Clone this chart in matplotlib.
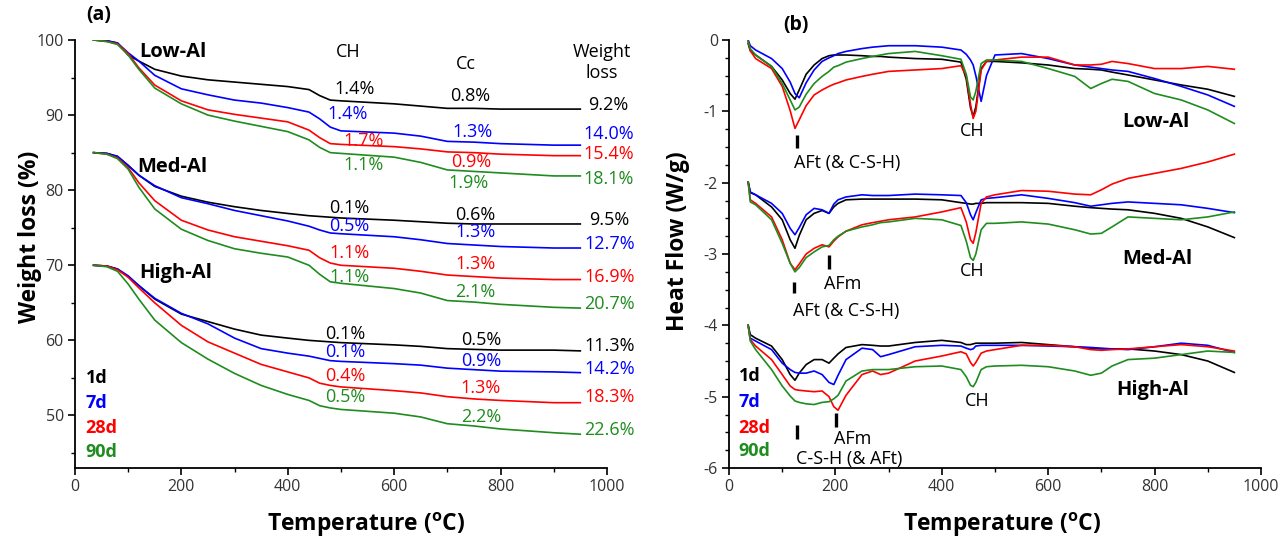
import matplotlib
matplotlib.use("Agg")
import matplotlib.pyplot as plt
from matplotlib.ticker import MultipleLocator

plt.rcParams["font.family"] = ["Open Sans", "DejaVu Sans"]
plt.rcParams["axes.unicode_minus"] = False
plt.rcParams["mathtext.fontset"] = "custom"
plt.rcParams["mathtext.rm"] = "Open Sans"
plt.rcParams["mathtext.bf"] = "Open Sans:bold"

ages = ["1d", "7d", "28d", "90d"]
colors = ["#000000", "#0000ff", "#ff0000", "#1e8c1e"]

# ---- (a) TGA: weight (%) vs temperature, curves shifted by group ----
temp_a = [35, 60, 80, 100, 120, 150, 200, 250, 300, 350, 400, 440, 460, 480,
          500, 600, 650, 700, 750, 800, 900, 950]

low_1d = [100, 99.9, 99.6, 98.0, 97.2, 96.1, 95.2, 94.7, 94.4, 94.1, 93.8, 93.4,
          92.6, 92.0, 91.9, 91.5, 91.2, 90.9, 90.9, 90.8, 90.8, 90.8]
low_7d = [100, 99.9, 99.6, 98.3, 97.2, 95.3, 93.5, 92.7, 92.0, 91.6, 91.0, 90.4,
          89.5, 88.4, 87.9, 87.6, 87.2, 86.5, 86.4, 86.2, 86.0, 86.0]
low_28d = [100, 99.8, 99.5, 98.2, 96.3, 94.0, 91.9, 90.7, 90.1, 89.6, 89.1, 88.0,
           87.0, 86.2, 86.1, 85.8, 85.5, 85.1, 85.0, 84.8, 84.6, 84.6]
low_90d = [100, 99.8, 99.4, 98.0, 96.1, 93.6, 91.5, 90.0, 89.2, 88.5, 87.8, 86.7,
           85.7, 85.0, 84.9, 84.4, 83.7, 82.7, 82.5, 82.3, 81.9, 81.9]

med_1d = [85, 84.9, 84.5, 83.3, 82.0, 80.5, 79.2, 78.4, 77.8, 77.3, 76.9, 76.6,
          76.5, 76.4, 76.3, 76.0, 75.8, 75.6, 75.5, 75.5, 75.5, 75.5]
med_7d = [85, 84.9, 84.5, 83.3, 82.0, 80.6, 79.0, 78.2, 77.3, 76.6, 75.9, 75.2,
          74.7, 74.3, 74.2, 73.8, 73.4, 72.9, 72.7, 72.5, 72.3, 72.3]
med_28d = [85, 84.8, 84.3, 83.0, 81.0, 78.6, 76.0, 74.7, 73.8, 73.2, 72.6, 72.0,
           71.0, 70.3, 70.0, 69.6, 69.2, 68.7, 68.5, 68.3, 68.1, 68.1]
med_90d = [85, 84.8, 84.2, 82.8, 80.4, 77.5, 74.8, 73.3, 72.2, 71.6, 71.1, 70.0,
           68.8, 67.8, 67.6, 66.9, 66.3, 65.3, 65.1, 64.8, 64.4, 64.3]

high_1d = [70, 69.9, 69.5, 68.5, 67.3, 65.5, 63.5, 62.5, 61.5, 60.7, 60.3, 60.0,
           59.9, 59.8, 59.7, 59.4, 59.2, 58.9, 58.8, 58.7, 58.7, 58.6]
high_7d = [70, 69.9, 69.5, 68.6, 67.3, 65.6, 63.6, 62.2, 60.3, 58.9, 58.3, 57.9,
           57.6, 57.3, 57.2, 56.9, 56.7, 56.3, 56.1, 55.9, 55.8, 55.7]
high_28d = [70, 69.9, 69.4, 68.4, 67.0, 65.0, 62.0, 59.8, 58.3, 56.8, 55.8, 55.0,
            54.3, 54.0, 53.8, 53.3, 53.0, 52.5, 52.2, 52.0, 51.7, 51.7]
high_90d = [70, 69.8, 69.2, 67.5, 65.5, 62.7, 59.7, 57.5, 55.6, 54.0, 52.8, 52.0,
            51.3, 51.0, 50.8, 50.3, 49.8, 48.9, 48.6, 48.2, 47.7, 47.5]

# step losses written on the chart (CH, Cc, total)
low_ch = ["1.4%", "1.4%", "1.7%", "1.1%"]
low_cc = ["0.8%", "1.3%", "0.9%", "1.9%"]
low_total = ["9.2%", "14.0%", "15.4%", "18.1%"]
med_ch = ["0.1%", "0.5%", "1.1%", "1.1%"]
med_cc = ["0.6%", "1.3%", "1.3%", "2.1%"]
med_total = ["9.5%", "12.7%", "16.9%", "20.7%"]
high_ch = ["0.1%", "0.1%", "0.4%", "0.5%"]
high_cc = ["0.5%", "0.9%", "1.3%", "2.2%"]
high_total = ["11.3%", "14.2%", "18.3%", "22.6%"]

# ---- (b) DSC: heat flow (W/g), shifted by group ----
temp_b = [36, 40, 50, 80, 100, 115, 124, 132, 145, 160, 175, 188, 197, 205, 220,
          250, 270, 285, 300, 350, 400, 436, 446, 454, 459, 464, 474, 484, 500,
          550, 600, 650, 680, 700, 720, 750, 800, 850, 900, 950]

hf_low_1d = [-0.05, -0.15, -0.21, -0.37, -0.56, -0.75, -0.83, -0.70, -0.48, -0.35,
             -0.26, -0.22, -0.21, -0.21, -0.21, -0.22, -0.23, -0.23, -0.24, -0.26,
             -0.27, -0.31, -0.55, -0.95, -1.07, -0.94, -0.40, -0.30, -0.30, -0.32,
             -0.35, -0.40, -0.41, -0.42, -0.45, -0.49, -0.56, -0.63, -0.69, -0.79]
hf_low_7d = [0.0, -0.08, -0.14, -0.26, -0.40, -0.59, -0.75, -0.81, -0.60, -0.42,
             -0.30, -0.25, -0.22, -0.19, -0.16, -0.12, -0.10, -0.09, -0.08, -0.08,
             -0.10, -0.14, -0.20, -0.28, -0.35, -0.50, -0.86, -0.50, -0.21, -0.19,
             -0.26, -0.35, -0.38, -0.40, -0.42, -0.44, -0.54, -0.65, -0.77, -0.93]
hf_low_28d = [-0.02, -0.15, -0.26, -0.40, -0.65, -0.99, -1.24, -1.12, -0.92, -0.77,
              -0.70, -0.65, -0.62, -0.60, -0.56, -0.51, -0.48, -0.46, -0.44, -0.42,
              -0.40, -0.36, -0.50, -0.90, -1.10, -1.00, -0.42, -0.30, -0.28, -0.24,
              -0.24, -0.35, -0.35, -0.34, -0.30, -0.33, -0.40, -0.40, -0.37, -0.41]
hf_low_90d = [-0.02, -0.12, -0.21, -0.37, -0.61, -0.84, -0.98, -0.94, -0.76, -0.61,
              -0.51, -0.44, -0.38, -0.36, -0.31, -0.26, -0.23, -0.21, -0.19, -0.16,
              -0.22, -0.27, -0.48, -0.80, -0.84, -0.72, -0.33, -0.28, -0.28, -0.30,
              -0.40, -0.51, -0.68, -0.61, -0.55, -0.58, -0.75, -0.84, -0.98, -1.17]

hf_med_1d = [-1.99, -2.14, -2.17, -2.34, -2.52, -2.80, -2.92, -2.74, -2.52, -2.43,
             -2.39, -2.43, -2.34, -2.29, -2.24, -2.23, -2.23, -2.23, -2.23, -2.23,
             -2.24, -2.28, -2.29, -2.30, -2.30, -2.29, -2.29, -2.28, -2.28, -2.28,
             -2.29, -2.33, -2.35, -2.36, -2.37, -2.38, -2.43, -2.50, -2.62, -2.77]
hf_med_7d = [-1.99, -2.13, -2.17, -2.29, -2.43, -2.64, -2.73, -2.63, -2.45, -2.36,
             -2.38, -2.43, -2.30, -2.24, -2.20, -2.17, -2.18, -2.18, -2.18, -2.16,
             -2.17, -2.18, -2.28, -2.45, -2.52, -2.42, -2.24, -2.22, -2.21, -2.17,
             -2.22, -2.28, -2.33, -2.31, -2.29, -2.27, -2.29, -2.31, -2.36, -2.42]
hf_med_28d = [-1.99, -2.24, -2.29, -2.48, -2.80, -3.13, -3.22, -3.14, -3.00, -2.92,
              -2.87, -2.90, -2.82, -2.76, -2.68, -2.59, -2.56, -2.54, -2.52, -2.48,
              -2.41, -2.35, -2.55, -2.80, -2.85, -2.70, -2.29, -2.20, -2.17, -2.11,
              -2.12, -2.16, -2.17, -2.10, -2.02, -1.94, -1.87, -1.80, -1.71, -1.60]
hf_med_90d = [-1.99, -2.27, -2.31, -2.52, -2.85, -3.13, -3.25, -3.19, -3.05, -2.97,
              -2.90, -2.88, -2.80, -2.75, -2.68, -2.62, -2.59, -2.56, -2.55, -2.50,
              -2.52, -2.60, -2.82, -3.05, -3.09, -3.00, -2.66, -2.57, -2.57, -2.55,
              -2.58, -2.66, -2.72, -2.71, -2.62, -2.48, -2.50, -2.52, -2.48, -2.41]

hf_high_1d = [-4.00, -4.13, -4.18, -4.29, -4.48, -4.69, -4.77, -4.67, -4.55, -4.48,
              -4.48, -4.53, -4.46, -4.40, -4.31, -4.27, -4.28, -4.29, -4.29, -4.24,
              -4.21, -4.24, -4.27, -4.27, -4.26, -4.25, -4.25, -4.25, -4.25, -4.24,
              -4.27, -4.30, -4.32, -4.33, -4.33, -4.33, -4.36, -4.41, -4.50, -4.66]
hf_high_7d = [-4.00, -4.18, -4.22, -4.34, -4.53, -4.62, -4.66, -4.67, -4.67, -4.64,
              -4.69, -4.80, -4.83, -4.70, -4.48, -4.32, -4.34, -4.44, -4.41, -4.30,
              -4.28, -4.29, -4.32, -4.34, -4.33, -4.29, -4.28, -4.28, -4.28, -4.28,
              -4.29, -4.30, -4.31, -4.32, -4.33, -4.34, -4.30, -4.25, -4.28, -4.38]
hf_high_28d = [-4.00, -4.20, -4.29, -4.48, -4.69, -4.85, -4.90, -4.91, -4.92, -4.93,
               -4.92, -5.00, -5.14, -5.19, -4.98, -4.69, -4.64, -4.69, -4.67, -4.50,
               -4.43, -4.37, -4.40, -4.52, -4.57, -4.52, -4.39, -4.36, -4.34, -4.28,
               -4.28, -4.30, -4.34, -4.35, -4.34, -4.33, -4.30, -4.27, -4.30, -4.36]
hf_high_90d = [-4.00, -4.22, -4.34, -4.62, -4.85, -4.99, -5.06, -5.08, -5.10, -5.11,
               -5.08, -5.07, -5.03, -4.98, -4.78, -4.64, -4.62, -4.62, -4.62, -4.58,
               -4.57, -4.62, -4.72, -4.84, -4.86, -4.80, -4.62, -4.58, -4.57, -4.56,
               -4.58, -4.64, -4.70, -4.67, -4.57, -4.48, -4.46, -4.41, -4.36, -4.38]

# peak markers in (b): temperature, top, bottom
peak_T = [127, 123, 188, 127, 201]
peak_top = [-1.33, -3.39, -3.01, -5.40, -5.23]
peak_bottom = [-1.52, -3.55, -3.21, -5.60, -5.43]

fig = plt.figure(figsize=(12.88, 5.4), dpi=100)
ax1 = fig.add_axes([0.0582, 0.1333, 0.413, 0.7926])
ax2 = fig.add_axes([0.566, 0.1333, 0.413, 0.7926])


def style_axes(ax):
    for s in ["top", "right"]:
        ax.spines[s].set_visible(False)
    for s in ["left", "bottom"]:
        ax.spines[s].set_linewidth(1.3)
    ax.tick_params(which="major", direction="out", length=5, width=1.2,
                   labelsize=11.5, labelcolor="#333333", pad=3)
    ax.tick_params(which="minor", direction="out", length=3, width=1.0)
    ax.set_xlim(0, 1000)
    ax.xaxis.set_major_locator(MultipleLocator(200))
    ax.xaxis.set_minor_locator(MultipleLocator(100))
    ax.set_xlabel("Temperature ($^{\\mathbf{o}}$C)", fontsize=16.5,
                  fontweight="bold")


style_axes(ax1)
style_axes(ax2)

# ---- panel (a) ----
groups_a = [[low_1d, low_7d, low_28d, low_90d],
            [med_1d, med_7d, med_28d, med_90d],
            [high_1d, high_7d, high_28d, high_90d]]
for grp in groups_a:
    for vals, c in zip(grp, colors):
        ax1.plot(temp_a, vals, color=c, lw=1.2)

ax1.set_ylim(43, 100)
ax1.yaxis.set_major_locator(MultipleLocator(10))
ax1.yaxis.set_minor_locator(MultipleLocator(5))
ax1.set_ylabel("Weight loss (%)", fontsize=16.5, fontweight="bold")
ax1.yaxis.set_label_coords(-0.062, 0.54)
ax1.xaxis.set_label_coords(0.547, -0.1)

ann = dict(fontsize=13, ha="center", va="center", clip_on=False)
label_rows = [
    (low_ch, [525, 512, 543, 543], [93.5, 90.1, 86.6, 83.3]),
    (low_cc, [743, 748, 745, 740], [92.6, 87.7, 83.7, 80.9]),
    (low_total, [1003] * 4, [91.4, 87.5, 84.8, 81.5]),
    (med_ch, [516] * 4, [77.6, 75.2, 71.6, 68.5]),
    (med_cc, [753] * 4, [76.7, 74.4, 70.2, 66.5]),
    (med_total, [1005] * 4, [76.0, 72.9, 68.5, 64.8]),
    (high_ch, [508] * 4, [60.9, 58.4, 55.3, 52.5]),
    (high_cc, [763] * 4, [60.0, 57.3, 53.6, 49.8]),
    (high_total, [1005] * 4, [59.2, 56.2, 52.4, 48.1]),
]
for texts, xs, ys in label_rows:
    for t, x, y, c in zip(texts, xs, ys, colors):
        ax1.text(x, y, t, color=c, **ann)

ax1.text(121, 98.4, "Low-Al", fontsize=14.5, fontweight="bold", va="center")
ax1.text(117, 83.1, "Med-Al", fontsize=14.5, fontweight="bold", va="center")
ax1.text(121, 69.0, "High-Al", fontsize=14.5, fontweight="bold", va="center")
ax1.text(514, 98.4, "CH", fontsize=13, ha="center", va="center")
ax1.text(735, 96.8, "Cc", fontsize=13, ha="center", va="center")
ax1.text(990, 97.0, "Weight\nloss", fontsize=13, ha="center", va="center",
         linespacing=1.25, clip_on=False)
ax1.text(45, 103.3, "(a)", fontsize=14, fontweight="bold", ha="center",
         va="center", clip_on=False)
for a, y, c in zip(ages, [55.0, 51.7, 48.3, 45.1], colors):
    ax1.text(20, y, a, color=c, fontsize=13, fontweight="bold", va="center")

# ---- panel (b) ----
groups_b = [[hf_low_1d, hf_low_7d, hf_low_28d, hf_low_90d],
            [hf_med_1d, hf_med_7d, hf_med_28d, hf_med_90d],
            [hf_high_1d, hf_high_7d, hf_high_28d, hf_high_90d]]
for grp in groups_b:
    for vals, c in zip(grp, colors):
        ax2.plot(temp_b, vals, color=c, lw=1.2)

ax2.set_ylim(-6, 0)
ax2.yaxis.set_major_locator(MultipleLocator(1))
ax2.yaxis.set_minor_locator(MultipleLocator(0.25))
ax2.set_ylabel("Heat Flow (W/g)", fontsize=16.5, fontweight="bold")
ax2.yaxis.set_label_coords(-0.073, 0.53)
ax2.xaxis.set_label_coords(0.514, -0.1)

ax2.vlines(peak_T, peak_bottom, peak_top, color="black", lw=2.4)

ax2.text(126, 0.21, "(b)", fontsize=14, fontweight="bold", ha="center",
         va="center", clip_on=False)
ax2.text(803, -1.15, "Low-Al", fontsize=14.5, fontweight="bold", ha="center",
         va="center")
ax2.text(806, -3.07, "Med-Al", fontsize=14.5, fontweight="bold", ha="center",
         va="center")
ax2.text(797, -4.90, "High-Al", fontsize=14.5, fontweight="bold", ha="center",
         va="center")
for x, y, t in [(458, -1.27, "CH"), (458, -3.24, "CH"), (466, -5.06, "CH"),
                (222, -1.73, "AFt (& C-S-H)"), (214, -3.42, "AFm"),
                (220, -3.80, "AFt (& C-S-H)"), (233, -5.60, "AFm"),
                (226, -5.87, "C-S-H (& AFt)")]:
    ax2.text(x, y, t, fontsize=13, ha="center", va="center", clip_on=False)
for a, y, c in zip(ages, [-4.71, -5.07, -5.44, -5.76], colors):
    ax2.text(18, y, a, color=c, fontsize=13, fontweight="bold", va="center")

fig.savefig("out.png", dpi=100)
